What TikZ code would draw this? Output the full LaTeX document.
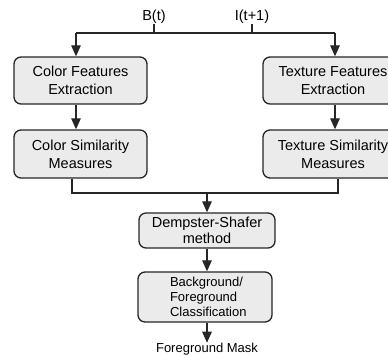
\documentclass[tikz,border=0pt]{standalone}
\usepackage{fontspec}
\setmainfont{Liberation Sans}
\usetikzlibrary{arrows.meta}
\begin{document}
\begin{tikzpicture}[x=1pt,y=-1pt,
  box/.style={draw=black!85, fill=black!8, line width=1.3pt, rounded corners=7pt,
    inner sep=0pt, align=center, font=\fontsize{14.5}{18}\selectfont},
  lbl/.style={inner sep=0pt, font=\fontsize{14.5}{18}\selectfont},
  conn/.style={draw=black!85, line width=1.3pt},
  arr/.style={conn, -{Triangle[width=9.5pt,length=11pt]}}]
\useasboundingbox (0,0) rectangle (388,355);
\clip (0,0) rectangle (388,355);
% top inputs
\node[lbl] (bt) at (154,17) {B(t)};
\node[lbl] (it) at (252,17) {I(t+1)};
\coordinate (jl) at (76,33);
\coordinate (jr) at (335,33);
% boxes
\node[box, minimum width=133pt, minimum height=47pt] (cf) at (80.5,80.5) {Color Features\\Extraction};
\node[box, minimum width=133pt, minimum height=48pt] (cs) at (80.5,154) {Color Similarity\\Measures};
\node[box, minimum width=140pt, minimum height=47pt] (tf) at (333,80.5) {Texture Features\\Extraction};
\node[box, minimum width=140pt, minimum height=48pt] (ts) at (333,154) {Texture Similarity\\Measures};
\node[box, minimum width=136pt, minimum height=35pt, font=\fontsize{14.5}{16}\selectfont] (dm) at (207,230.5) {Dempster-Shafer\\method};
\node[box, minimum width=134pt, minimum height=50pt, align=left, text width=134pt,
  font=\fontsize{13}{15}\selectfont] (bf) at (205,297)
  {\hspace*{32pt}Background/\\\hspace*{32pt}Foreground\\\hspace*{32pt}Classification};
\node[lbl, font=\fontsize{13}{15}\selectfont] (fm) at (207,349) {Foreground Mask};
% merge coordinates
\coordinate (bl) at (72,193);
\coordinate (br) at (338,193);
\coordinate (mj) at (207,193);
% connectors
\draw[conn] (bt.south) -- (bt.south |- jl);
\draw[conn] (it.south) -- (it.south |- jl);
\draw[conn] (jl) -- (jr);
\draw[arr] (jl) -- (cf.north -| jl);
\draw[arr] (jr) -- (tf.north -| jr);
\draw[arr] (cf.south -| jl) -- (cs.north -| jl);
\draw[arr] (tf.south -| jr) -- (ts.north -| jr);
\draw[conn] (cs.south -| bl) -- (bl) -- (br) -- (ts.south -| br);
\draw[arr] (mj) -- (dm.north -| mj);
\draw[arr] (dm.south -| mj) -- (bf.north -| mj);
\draw[arr] (bf.south -| mj) -- (fm.north -| mj);
\end{tikzpicture}
\end{document}
